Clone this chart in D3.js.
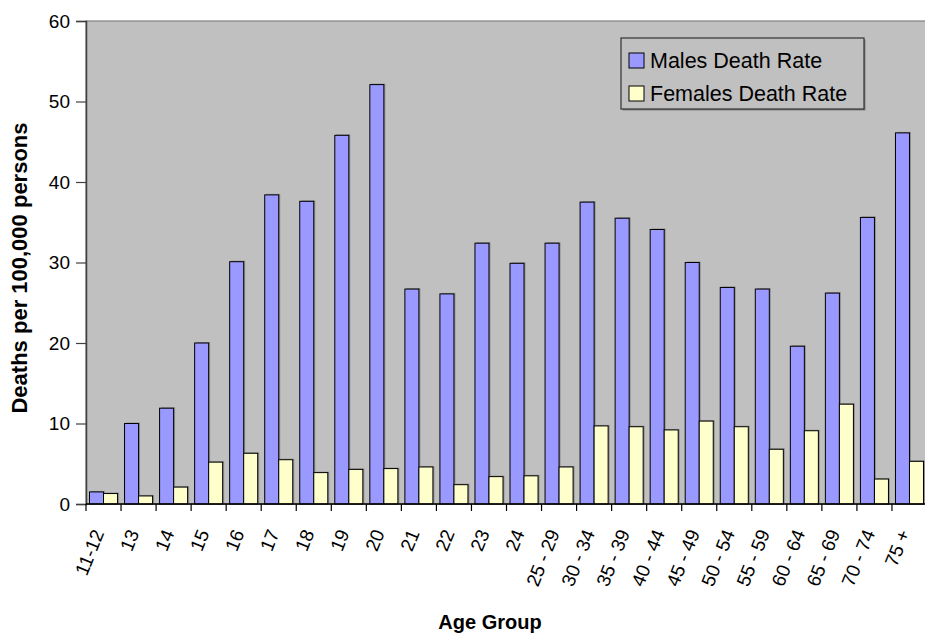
<!DOCTYPE html>
<html>
<head>
<meta charset="utf-8">
<script src="https://cdn.jsdelivr.net/npm/d3@7"></script>
<style>
  body { margin: 0; background: #fff; }
  svg { display: block; font-family: "Liberation Sans", Arial, sans-serif; }
</style>
</head>
<body>
<div id="chart"></div>
<script>
// Data
const ageGroups = ["11-12", "13", "14", "15", "16", "17", "18", "19", "20", "21", "22", "23", "24",
  "25 - 29", "30 - 34", "35 - 39", "40 - 44", "45 - 49", "50 - 54", "55 - 59", "60 - 64", "65 - 69", "70 - 74", "75 +"];
const malesRate = [1.5, 10.0, 11.9, 20.0, 30.1, 38.4, 37.6, 45.8, 52.1, 26.7, 26.1, 32.4, 29.9,
  32.4, 37.5, 35.5, 34.1, 30.0, 26.9, 26.7, 19.6, 26.2, 35.6, 46.1];
const femalesRate = [1.3, 1.0, 2.1, 5.2, 6.3, 5.5, 3.9, 4.3, 4.4, 4.6, 2.4, 3.4, 3.5,
  4.6, 9.7, 9.6, 9.2, 10.3, 9.6, 6.8, 9.1, 12.4, 3.1, 5.3];
const yTicks = [0, 10, 20, 30, 40, 50, 60];
const seriesNames = ["Males Death Rate", "Females Death Rate"];
const seriesColors = ["#9999FF", "#FFFFCC"];

// 1. Dimensions
const W = 925, H = 635;
const margin = { top: 21, right: -2, bottom: 131, left: 86 },
  width = W - margin.left - margin.right,
  height = H - margin.top - margin.bottom;

// 2. SVG setup
const root = d3.select("#chart")
  .append("svg")
  .attr("width", W)
  .attr("height", H);

const svg = root.append("g")
  .attr("transform", `translate(${margin.left},${margin.top})`);

// 3. Scales
const x = d3.scaleBand()
  .domain(ageGroups)
  .range([0, width])
  .paddingInner(0.2)
  .paddingOuter(0.1);

const xSub = d3.scaleBand()
  .domain(seriesNames)
  .range([0, x.bandwidth()]);

const y = d3.scaleLinear()
  .domain([0, 60])
  .range([height, 0]);

// Plot background
svg.append("rect")
  .attr("width", width)
  .attr("height", height)
  .attr("fill", "#C0C0C0")
  .attr("stroke", "#808080")
  .attr("stroke-width", 1.2);

// 4. Bars
const rows = ageGroups.map((g, i) => ({ group: g, values: [malesRate[i], femalesRate[i]] }));

const groups = svg.selectAll(".grp")
  .data(rows)
  .enter()
  .append("g")
  .attr("class", "grp")
  .attr("transform", d => `translate(${x(d.group)},0)`);

groups.selectAll("rect.shadow")
  .data(d => d.values.map((v, k) => ({ v, k })))
  .enter()
  .append("rect")
  .attr("class", "shadow")
  .attr("x", d => xSub(seriesNames[d.k]) + 1.5)
  .attr("y", d => y(d.v) - 1)
  .attr("width", xSub.bandwidth())
  .attr("height", d => height - y(d.v))
  .attr("fill", "#707070")
  .attr("opacity", 0.6);

groups.selectAll("rect.bar")
  .data(d => d.values.map((v, k) => ({ v, k })))
  .enter()
  .append("rect")
  .attr("class", "bar")
  .attr("x", d => xSub(seriesNames[d.k]))
  .attr("y", d => y(d.v))
  .attr("width", xSub.bandwidth())
  .attr("height", d => height - y(d.v))
  .attr("fill", d => seriesColors[d.k])
  .attr("stroke", "#000")
  .attr("stroke-width", 1);

// 5. Axes
const yAxis = svg.append("g")
  .call(d3.axisLeft(y).tickValues(yTicks).tickSize(10).tickPadding(6));
yAxis.select(".domain").attr("stroke", "#404040").attr("stroke-width", 1.5);
yAxis.selectAll(".tick line").attr("stroke", "#404040").attr("stroke-width", 1.2);
yAxis.selectAll("text")
  .attr("font-size", "19px")
  .attr("fill", "#000")
  .attr("font-family", "Liberation Sans, Arial, sans-serif");

// category boundaries as tick marks
const xAxisG = svg.append("g").attr("transform", `translate(0,${height})`);
xAxisG.append("line")
  .attr("x1", 0).attr("x2", width)
  .attr("stroke", "#000").attr("stroke-width", 1.5);
xAxisG.selectAll(".bound")
  .data(ageGroups.concat(["end"]))
  .enter()
  .append("line")
  .attr("x1", (d, i) => x.step() * i)
  .attr("x2", (d, i) => x.step() * i)
  .attr("y1", 0)
  .attr("y2", 7)
  .attr("stroke", "#000")
  .attr("stroke-width", 1.2);

xAxisG.selectAll(".xlab")
  .data(ageGroups)
  .enter()
  .append("text")
  .attr("class", "xlab")
  .attr("text-anchor", "end")
  .attr("font-size", "19px")
  .attr("transform", d => `translate(${x(d) + x.bandwidth() / 2 + 1},${29}) rotate(-68)`)
  .text(d => d);

// 6. Axis titles
root.append("text")
  .attr("text-anchor", "middle")
  .attr("font-weight", "bold")
  .attr("font-size", "22px")
  .attr("transform", `translate(27,${268}) rotate(-90)`)
  .text("Deaths per 100,000 persons");

root.append("text")
  .attr("x", 490)
  .attr("y", 629)
  .attr("text-anchor", "middle")
  .attr("font-weight", "bold")
  .attr("font-size", "20px")
  .text("Age Group");

// 7. Legend
const legend = svg.append("g")
  .attr("transform", `translate(${621 - margin.left},${38 - margin.top})`);

legend.append("rect")
  .attr("x", 1.5).attr("y", 1.5)
  .attr("width", 243).attr("height", 71)
  .attr("fill", "#808080");
legend.append("rect")
  .attr("width", 243)
  .attr("height", 71)
  .attr("fill", "#C0C0C0")
  .attr("stroke", "#333")
  .attr("stroke-width", 1.2);

seriesNames.forEach((name, i) => {
  const row = legend.append("g").attr("transform", `translate(8,${22 + i * 33})`);
  row.append("rect")
    .attr("x", 0).attr("y", -7)
    .attr("width", 15).attr("height", 15)
    .attr("fill", seriesColors[i])
    .attr("stroke", "#000")
    .attr("stroke-width", 1);
  row.append("text")
    .attr("x", 21)
    .attr("y", 0)
    .attr("dy", "0.36em")
    .attr("font-size", "21.5px")
    .text(name);
});
</script>
</body>
</html>
